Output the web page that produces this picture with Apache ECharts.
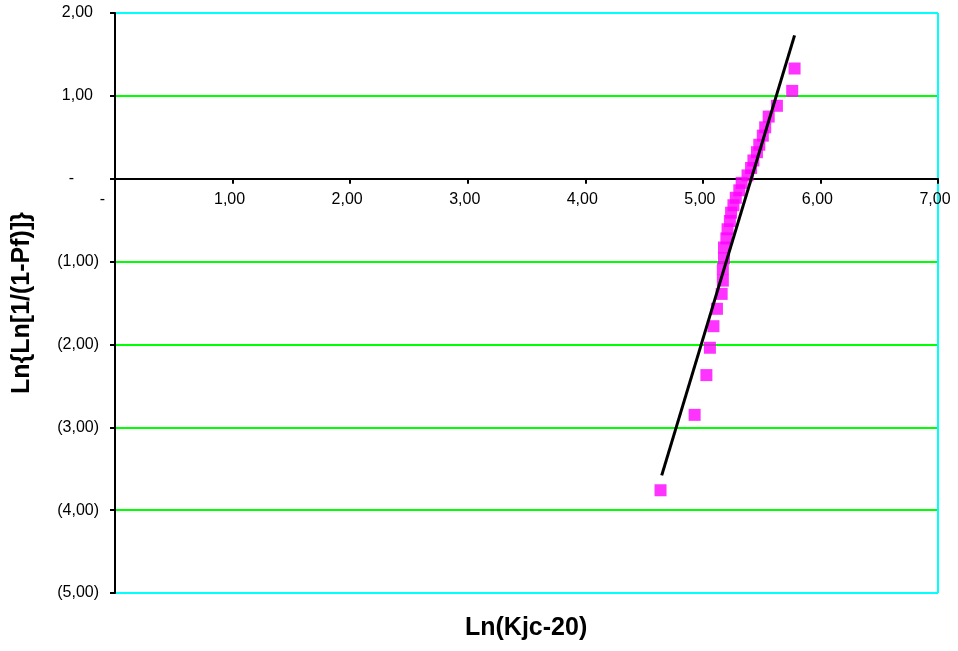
<!DOCTYPE html>
<html>
<head>
<meta charset="utf-8">
<style>
html,body{margin:0;padding:0;background:#fff;}
#chart{width:958px;height:651px;}
</style>
<script src="https://cdn.jsdelivr.net/npm/echarts@6/dist/echarts.min.js"></script>
</head>
<body>
<div id="chart"></div>
<script>
// Data
const xVals = [4.64, 4.93, 5.03, 5.06, 5.09, 5.12, 5.16, 5.17, 5.17, 5.18, 5.18, 5.20, 5.21, 5.23, 5.24, 5.26, 5.28, 5.31, 5.33, 5.38, 5.41, 5.43, 5.46, 5.48, 5.51, 5.53, 5.56, 5.63, 5.76, 5.78];
const yVals = [-3.76, -2.85, -2.37, -2.04, -1.78, -1.57, -1.39, -1.23, -1.09, -0.96, -0.83, -0.72, -0.61, -0.51, -0.41, -0.32, -0.23, -0.14, -0.05, 0.04, 0.13, 0.22, 0.32, 0.41, 0.52, 0.62, 0.75, 0.88, 1.06, 1.33];
const lineX = [4.65, 5.78];
const lineY = [-3.58, 1.73];
const xTitle = 'Ln(Kjc-20)';
const yTitle = 'Ln{Ln[1/(1-Pf)]}';

function fmt(v) {
  if (Math.abs(v) < 1e-9) return '{z|-}';
  const s = Math.abs(v).toFixed(2).replace('.', ',');
  return v < 0 ? '{n|(' + s + ')}' : '{p|' + s + '}';
}
const richLabels = {
  n: { fontSize: 16, fontFamily: 'Liberation Sans, Arial', color: '#000' },
  p: { fontSize: 16, fontFamily: 'Liberation Sans, Arial', color: '#000', padding: [0, 6, 0, 0] },
  z: { fontSize: 16, fontFamily: 'Liberation Sans, Arial', color: '#000', padding: [0, 25, 0, 0] }
};

const gridTop = 13, gridBottom = 58, chartH = 651;
const yMin = -5, yMax = 2;
const plotH = chartH - gridTop - gridBottom;
const zeroOffset = plotH * (0 - yMin) / (yMax - yMin);

const chart = echarts.init(document.getElementById('chart'), null, { renderer: 'canvas' });
chart.setOption({
  animation: false,
  backgroundColor: '#fff',
  graphic: [{
    type: 'text',
    left: 465, top: 616,
    style: {
      text: xTitle,
      font: 'bold 25px "Liberation Sans", Arial',
      fill: '#000'
    }
  }],
  grid: { left: 115, right: 20, top: gridTop, bottom: gridBottom, containLabel: false },
  xAxis: {
    type: 'value', min: 0, max: 7, interval: 1,
    position: 'bottom',
    offset: -zeroOffset,
    axisLine: { show: true, onZero: false, lineStyle: { color: '#000', width: 2 } },
    axisTick: { show: true, inside: false, length: 5, lineStyle: { color: '#000', width: 2 } },
    axisLabel: { margin: 13, formatter: fmt, rich: richLabels },
    splitLine: {
      show: true,
      lineStyle: { width: 2, color: ['rgba(0,0,0,0)','rgba(0,0,0,0)','rgba(0,0,0,0)','rgba(0,0,0,0)','rgba(0,0,0,0)','rgba(0,0,0,0)','rgba(0,0,0,0)','#00FFFF'] }
    }
  },
  yAxis: {
    type: 'value', min: yMin, max: yMax, interval: 1,
    name: yTitle, nameLocation: 'middle', nameGap: 80,
    nameTextStyle: { fontSize: 25, fontWeight: 'bold', fontFamily: 'Liberation Sans, Arial', color: '#000' },
    axisLine: { show: true, onZero: false, lineStyle: { color: '#000', width: 2 } },
    axisTick: { show: true, length: 5, lineStyle: { color: '#000', width: 2 } },
    axisLabel: { margin: 16, formatter: fmt, rich: richLabels },
    splitLine: {
      show: true,
      lineStyle: { width: 2, color: ['#00FFFF','#00FF00','#00FF00','#00FF00','#00FF00','rgba(0,0,0,0)','#00FF00','#00FFFF'] }
    }
  },
  series: [
    {
      type: 'scatter',
      symbol: 'rect',
      symbolSize: 12,
      itemStyle: { color: '#FF00FF' },
      data: xVals.map((x, i) => [x, yVals[i]]),
      z: 3
    },
    {
      type: 'line',
      showSymbol: false,
      symbol: 'none',
      lineStyle: { color: '#000', width: 3 },
      data: lineX.map((x, i) => [x, lineY[i]]),
      z: 4
    }
  ]
});
</script>
</body>
</html>
